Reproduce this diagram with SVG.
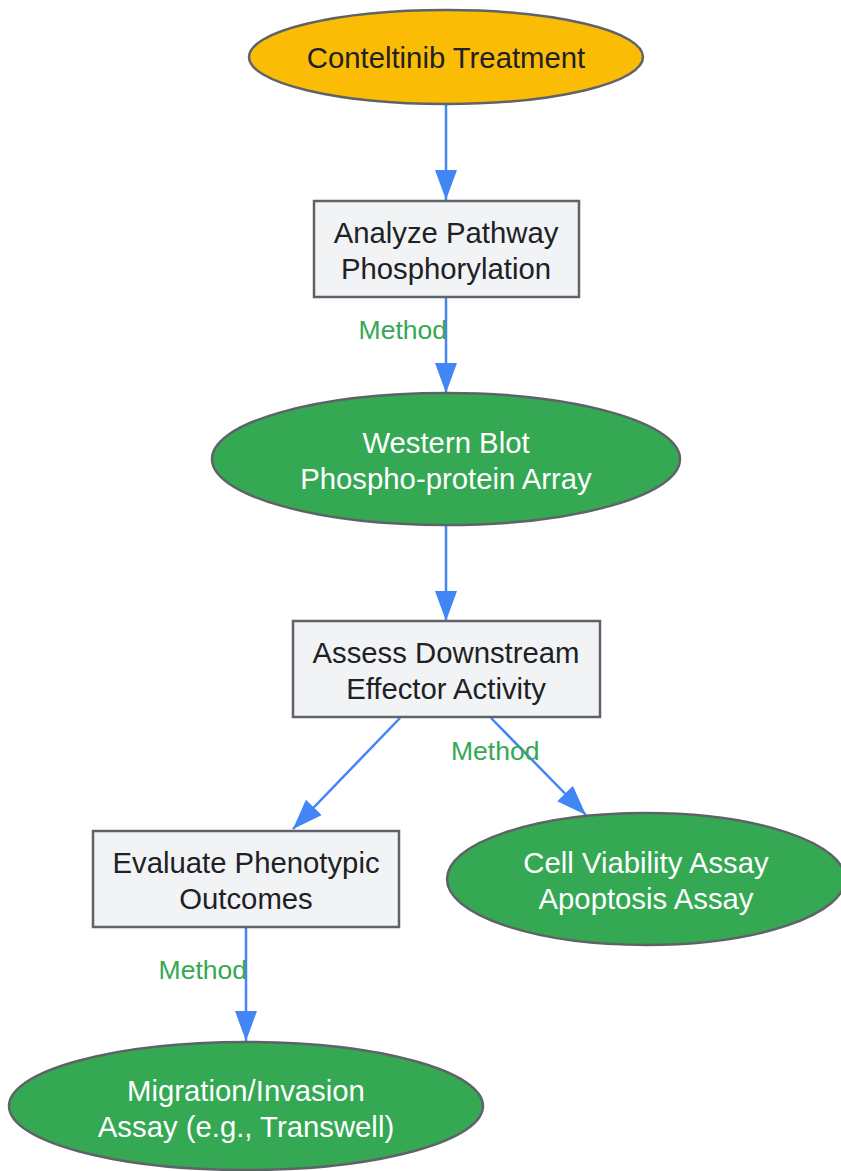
<svg xmlns="http://www.w3.org/2000/svg" width="841" height="1171" viewBox="0 0 841 1171">
<style>
.box{fill:#F1F3F4;stroke:#5F6368;stroke-width:2.5}
.start{fill:#FBBC05;stroke:#5F6368;stroke-width:2.5}
.green{fill:#34A853;stroke:#5F6368;stroke-width:2.5}
.t{font-family:"Liberation Sans",Arial,sans-serif;font-size:29.3px;text-anchor:middle}
.dark{fill:#202124}
.light{fill:#FFFFFF}
.edge{stroke:#4285F4;stroke-width:2.5;fill:none;marker-end:url(#arr)}
.lbl{font-family:"Liberation Sans",Arial,sans-serif;font-size:26.5px;fill:#34A853}
</style>
<defs>
<marker id="arr" viewBox="0 0 30 22" refX="30" refY="11" markerWidth="30" markerHeight="22" markerUnits="userSpaceOnUse" orient="auto">
<path d="M0,0 L30,11 L0,22 z" fill="#4285F4"/>
</marker>
</defs>
<g id="edges">
<line class="edge" x1="446" y1="105" x2="446" y2="200"/>
<line class="edge" x1="446" y1="297" x2="446" y2="393"/>
<line class="edge" x1="446" y1="525" x2="446" y2="621"/>
<line class="edge" x1="400" y1="718" x2="293" y2="829"/>
<line class="edge" x1="491" y1="718" x2="586" y2="815"/>
<line class="edge" x1="246" y1="927" x2="246" y2="1041"/>
<text class="lbl" x="447" y="339" text-anchor="end">Method</text>
<text class="lbl" x="451" y="760">Method</text>
<text class="lbl" x="247" y="979" text-anchor="end">Method</text>
</g>
<g id="start">
<ellipse class="start" cx="446" cy="57" rx="197" ry="47"/>
<text class="t dark" x="446" y="67.5">Conteltinib Treatment</text>
</g>
<g id="analyze">
<rect class="box" x="314" y="201" width="265" height="96"/>
<text class="t dark" x="446" y="242.5">Analyze Pathway</text>
<text class="t dark" x="446" y="278.5">Phosphorylation</text>
</g>
<g id="western">
<ellipse class="green" cx="446" cy="459" rx="234" ry="66"/>
<text class="t light" x="446" y="452.5">Western Blot</text>
<text class="t light" x="446" y="488.5">Phospho-protein Array</text>
</g>
<g id="assess">
<rect class="box" x="293" y="621" width="307" height="96"/>
<text class="t dark" x="446" y="662.5">Assess Downstream</text>
<text class="t dark" x="446" y="698.5">Effector Activity</text>
</g>
<g id="evaluate">
<rect class="box" x="93" y="831" width="306" height="96"/>
<text class="t dark" x="246" y="872.5">Evaluate Phenotypic</text>
<text class="t dark" x="246" y="908.5">Outcomes</text>
</g>
<g id="viability">
<ellipse class="green" cx="646" cy="879" rx="199" ry="66"/>
<text class="t light" x="646" y="872.5">Cell Viability Assay</text>
<text class="t light" x="646" y="908.5">Apoptosis Assay</text>
</g>
<g id="migration">
<ellipse class="green" cx="246" cy="1106" rx="237" ry="64"/>
<text class="t light" x="246" y="1100.5">Migration/Invasion</text>
<text class="t light" x="246" y="1136.5">Assay (e.g., Transwell)</text>
</g>
</svg>
